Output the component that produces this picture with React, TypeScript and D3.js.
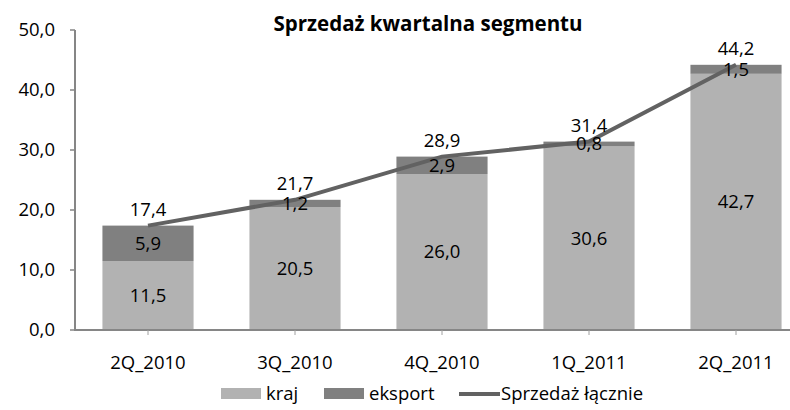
import React from 'react';
import * as d3 from 'd3';

const categories = ['2Q_2010', '3Q_2010', '4Q_2010', '1Q_2011', '2Q_2011'];
const kraj = [11.5, 20.5, 26.0, 30.6, 42.7];
const eksport = [5.9, 1.2, 2.9, 0.8, 1.5];
const total = [17.4, 21.7, 28.9, 31.4, 44.2];
const yTicks = [0, 10, 20, 30, 40, 50];

const W = 790;
const H = 410;
const FONT = '"Open Sans", sans-serif';
const FS = 18.5;

const fmt = (v: number) => v.toFixed(1).replace('.', ',');

const App = () => {
  const x = d3.scaleBand<string>()
    .domain(categories)
    .range([74.5, 809.5])
    .paddingInner(0.38)
    .paddingOuter(0.19);
  const y = d3.scaleLinear().domain([0, 50]).range([330, 30]);
  const bw = x.bandwidth();
  const cx = (c: string) => (x(c) as number) + bw / 2;

  const line = d3.line<number>()
    .x((_, i) => cx(categories[i]))
    .y(d => y(d));

  return (
    <div style={{ position: 'absolute', left: 0, top: 0 }}>
      <svg width={W} height={H} style={{ display: 'block', fontFamily: FONT }}>
        <rect width={W} height={H} fill="#fff" />
        <text x={428} y={31} textAnchor="middle" fontSize={20.5} fontWeight="bold" fill="#000">
          Sprzedaż kwartalna segmentu
        </text>

        {/* y axis */}
        <line x1={75} x2={75} y1={y(50)} y2={y(0)} stroke="#868686" strokeWidth={2} />
        {yTicks.map(t => (
          <g key={t}>
            <line x1={70} x2={75} y1={y(t)} y2={y(t)} stroke="#868686" strokeWidth={1.5} />
            <text x={55} y={y(t)} dy="0.35em" textAnchor="end" fontSize={FS} fill="#000">
              {fmt(t)}
            </text>
          </g>
        ))}

        {/* bars */}
        {categories.map((c, i) => (
          <g key={c}>
            <rect x={x(c)} y={y(kraj[i])} width={bw} height={y(0) - y(kraj[i])} fill="#b2b2b2" />
            <rect x={x(c)} y={y(kraj[i] + eksport[i])} width={bw} height={y(kraj[i]) - y(kraj[i] + eksport[i])} fill="#808080" />
          </g>
        ))}

        {/* x axis */}
        <line x1={74} x2={W} y1={y(0)} y2={y(0)} stroke="#868686" strokeWidth={2} />
        {categories.map(c => (
          <g key={c}>
            <line x1={cx(c)} x2={cx(c)} y1={y(0)} y2={y(0) + 5} stroke="#a0a0a0" strokeWidth={1} />
            <text x={cx(c)} y={y(0) + 39} textAnchor="middle" fontSize={FS} fill="#000">{c}</text>
          </g>
        ))}

        {/* total line */}
        <path d={line(total) as string} fill="none" stroke="#626262" strokeWidth={4} />

        {/* labels */}
        {categories.map((c, i) => (
          <g key={c} fontSize={FS} fill="#000" textAnchor="middle">
            <text x={cx(c)} y={y(kraj[i] / 2)} dy="0.35em">{fmt(kraj[i])}</text>
            <text x={cx(c)} y={y(kraj[i] + eksport[i] / 2)} dy="0.35em">{fmt(eksport[i])}</text>
            <text x={cx(c)} y={y(total[i]) - 16} dy="0.35em">{fmt(total[i])}</text>
          </g>
        ))}

        {/* legend */}
        <g fontSize={FS} fill="#000">
          <rect x={221} y={388} width={40} height={11} fill="#b2b2b2" />
          <text x={266} y={394} dy="0.35em">kraj</text>
          <rect x={324} y={388} width={40} height={11} fill="#808080" />
          <text x={369} y={394} dy="0.35em">eksport</text>
          <line x1={459} x2={500} y1={394} y2={394} stroke="#626262" strokeWidth={4} />
          <text x={501} y={394} dy="0.35em">Sprzedaż łącznie</text>
        </g>
      </svg>
    </div>
  );
};

export default App;
